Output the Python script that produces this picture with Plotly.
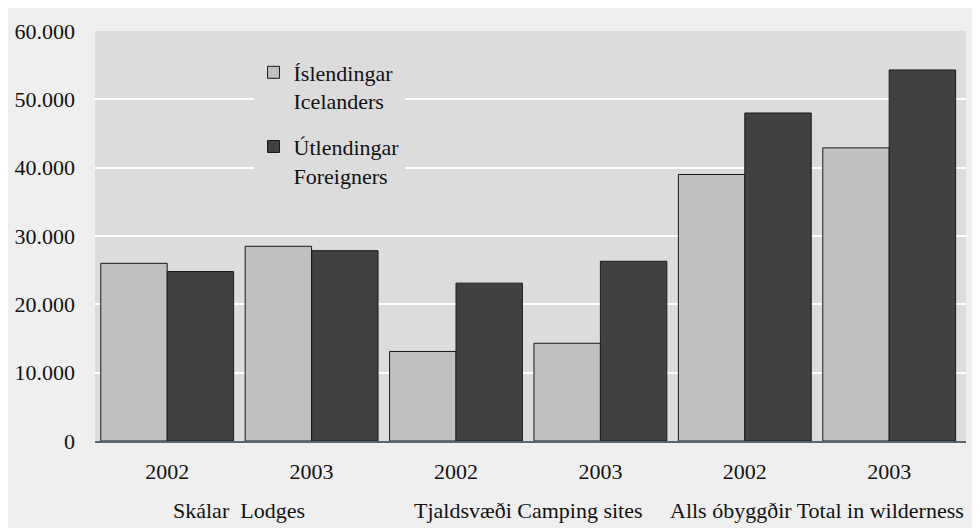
import plotly.graph_objects as go

# Gistinætur á hálendinu / overnight stays in the wilderness
groups = ["Skálar  Lodges", "Skálar  Lodges",
          "Tjaldsvæði Camping sites", "Tjaldsvæði Camping sites",
          "Alls óbyggðir Total in wilderness", "Alls óbyggðir Total in wilderness"]
years = ["2002", "2003", "2002", "2003", "2002", "2003"]

icelanders = [26000, 28500, 13100, 14300, 39000, 42900]
foreigners = [24800, 27850, 23100, 26300, 48000, 54300]

y_ticks = [0, 10000, 20000, 30000, 40000, 50000, 60000]

FONT = "Liberation Serif, Times New Roman, serif"

# one category per bar pair, shown with the year only
keys = [f"{g} {y}" for g, y in zip(groups, years)]

fig = go.Figure()
fig.add_trace(go.Bar(
    x=keys, y=icelanders,
    name="Íslendingar<br>Icelanders", legendgroup="ice",
    marker=dict(color="#c0c0c0", line=dict(color="#1a1a1a", width=1)),
))
fig.add_trace(go.Bar(
    x=keys, y=foreigners,
    name="Útlendingar<br>Foreigners", legendgroup="for",
    marker=dict(color="#414141", line=dict(color="#1a1a1a", width=1)),
))

# group names under the years
for g in dict.fromkeys(groups):
    idx = [i for i, gg in enumerate(groups) if gg == g]
    fig.add_annotation(
        x=sum(idx) / len(idx), xref="x", y=0, yref="paper",
        yshift=-69, yanchor="middle", text=g, showarrow=False,
        font=dict(family=FONT, size=22, color="#111111"),
    )

fig.update_layout(
    width=980, height=528,
    margin=dict(l=87, r=22, t=23, b=95),
    paper_bgcolor="#efefef",
    plot_bgcolor="#dcdcdc",
    font=dict(family=FONT, size=22, color="#111111"),
    separators=",.",
    barmode="group",
    bargap=0.08,
    bargroupgap=0,
    legend=dict(
        x=0.182, y=0.95, xanchor="left", yanchor="top",
        bgcolor="#dcdcdc",
        font=dict(family=FONT, size=22, color="#111111"),
        valign="top",
        tracegroupgap=14,
    ),
)

fig.update_yaxes(
    range=[0, 60000],
    tickvals=y_ticks,
    tickformat=",d",
    showgrid=True, gridcolor="white", gridwidth=2,
    zeroline=False, showline=False,
    ticks="", ticklabelstandoff=19,
    automargin=False,
)
fig.update_xaxes(
    type="category",
    tickvals=keys, ticktext=years,
    showgrid=False,
    showline=True, linecolor="#5b6270", linewidth=2,
    ticks="", ticklabelstandoff=10,
    automargin=False,
)

fig.write_html("out.html")
